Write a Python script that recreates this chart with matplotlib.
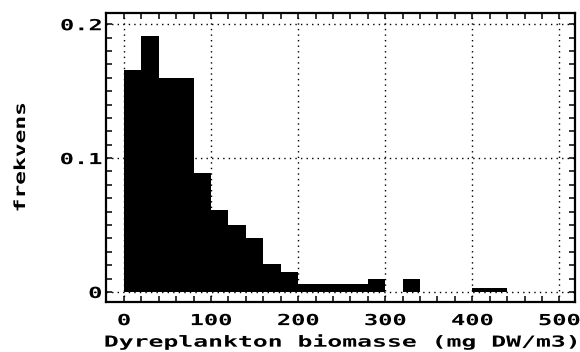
import matplotlib
matplotlib.use("Agg")
import matplotlib.pyplot as plt
import matplotlib.patheffects as pe
from matplotlib.transforms import Affine2D
import numpy as np

# histogram data (bin width 20 mg DW/m3)
bin_left = np.arange(0, 500, 20)
frekvens = [0.166, 0.191, 0.160, 0.160, 0.089, 0.061, 0.050, 0.040, 0.021, 0.015,
            0.006, 0.006, 0.006, 0.006, 0.0095, 0.0, 0.0095, 0.0, 0.0, 0.0,
            0.003, 0.003, 0.0, 0.0, 0.0]
xticks = [0, 100, 200, 300, 400, 500]
xticklabels = ['0', '100', '200', '300', '400', '500']
yticks = [0, 0.1, 0.2]
yticklabels = ['0', '0.1', '0.2']


class Stretch(pe.AbstractPathEffect):
    # widen the glyphs (old plotter font is much wider than it is tall)
    def __init__(self, sx=1.6, anchor='center'):
        super().__init__()
        self.sx = sx
        self.anchor = anchor

    def draw_path(self, renderer, gc, tpath, affine, rgbFace=None):
        ext = tpath.get_extents()
        if self.anchor == 'right':
            cx = ext.x1
        elif self.anchor == 'left':
            cx = ext.x0
        else:
            cx = (ext.x0 + ext.x1) / 2
        t = Affine2D().translate(-cx, 0).scale(self.sx, 1).translate(cx, 0)
        renderer.draw_path(gc, tpath, t + affine, rgbFace)


plt.rcParams['font.family'] = ['DejaVu Sans Mono']
plt.rcParams['font.weight'] = 'bold'

fig = plt.figure(figsize=(5.8, 3.52), dpi=100)
ax = fig.add_axes([106/580, 1-302/352, (575-106)/580, (302-13)/352])

ax.bar(bin_left, frekvens, width=20, align='edge', color='black', linewidth=0, zorder=1)

ax.set_xlim(-20.7, 518)
ax.set_ylim(-0.0075, 0.2084)

ax.set_xticks(xticks)
ax.set_xticklabels(xticklabels)
ax.set_xticks(np.arange(0, 501, 20), minor=True)
ax.set_yticks(yticks)
ax.set_yticklabels(yticklabels)
ax.set_yticks(np.arange(0, 0.201, 0.01), minor=True)

ax.tick_params(which='both', direction='in', top=True, right=True,
               length=4, width=1.1, labelsize=11)
ax.tick_params(axis='x', pad=8)
ax.tick_params(axis='y', pad=3)
ax.grid(True, which='major', color='black', linestyle=(0, (1, 3)), linewidth=1.0, zorder=0)
for s in ax.spines.values():
    s.set_linewidth(1.6)

ax.set_xlabel('Dyreplankton biomasse (mg DW/m3)', fontsize=11, fontweight='bold', labelpad=4)
ax.set_ylabel('frekvens', fontsize=11, fontweight='bold')
ax.yaxis.set_label_coords((28 - 106) / 469, 0.5)

for lbl in ax.get_xticklabels():
    lbl.set_path_effects([Stretch(1.55, 'center')])
for lbl in ax.get_yticklabels():
    lbl.set_path_effects([Stretch(1.55, 'right')])
ax.xaxis.label.set_path_effects([Stretch(1.62, 'center')])
ax.yaxis.label.set_path_effects([Stretch(1.5, 'center')])

fig.savefig('out.png', dpi=100)
